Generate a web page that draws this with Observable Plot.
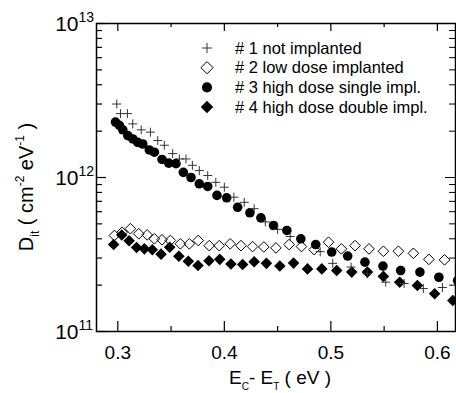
<!DOCTYPE html>
<html><head><meta charset="utf-8">
<script src="https://cdn.jsdelivr.net/npm/d3@7"></script>
<script src="https://cdn.jsdelivr.net/npm/@observablehq/plot@0.6"></script>
<style>
html,body{margin:0;padding:0;background:#fff;overflow:hidden;}
#chart{position:relative;width:456px;height:393px;}
</style></head><body><div id="chart"></div>
<script>
// ---- tick values / labels ----
const xTicks = [0.3, 0.4, 0.5, 0.6];
const xMinorTicks = [0.35, 0.45, 0.55];
const yDecades = [1e11, 1e12, 1e13];
const yMinorTicks = [2e11,3e11,4e11,5e11,6e11,7e11,8e11,9e11,2e12,3e12,4e12,5e12,6e12,7e12,8e12,9e12];
const seriesLabels = ["# 1 not implanted", "# 2 low dose implanted", "# 3 high dose single impl.", "# 4 high dose double impl."];

// ---- #1 not implanted (+) ----
const s1E = [0.299,0.3025,0.309,0.314,0.322,0.3306,0.3375,0.3437,0.3515,0.3578,0.364,0.370,0.3765,0.3844,0.392,0.400,0.409,0.4187,0.428,0.4385,0.450,0.4618,0.490,0.5017,0.519,0.534,0.5515,0.5687,0.5868,0.6047];
const s1D = [3.0e12,2.6e12,2.6e12,2.23e12,2.04e12,1.97e12,1.74e12,1.62e12,1.43e12,1.32e12,1.32e12,1.2e12,1.11e12,1.03e12,9.3e11,8.65e11,7.45e11,6.9e11,6.27e11,5.15e11,4.6e11,4.14e11,3.3e11,2.77e11,2.62e11,2.37e11,2.09e11,2.05e11,1.9e11,1.93e11];

// ---- #2 low dose implanted (open diamond) ----
const s2E = [0.2968,0.304,0.3118,0.3197,0.3275,0.3343,0.3415,0.3493,0.3587,0.3671,0.3755,0.3858,0.3952,0.4055,0.4156,0.4265,0.4371,0.4484,0.4608,0.4724,0.4843,0.4978,0.5099,0.5227,0.5358,0.5493,0.5634,0.5775,0.592,0.6067];
const s2D = [4.2e11,4.41e11,4.65e11,4.31e11,4.24e11,4.0e11,3.94e11,3.9e11,3.71e11,3.71e11,3.9e11,3.61e11,3.61e11,3.71e11,3.61e11,3.56e11,3.54e11,3.49e11,3.67e11,3.56e11,3.4e11,3.8e11,3.44e11,3.61e11,3.44e11,3.32e11,3.32e11,3.22e11,2.94e11,2.92e11];

// ---- #3 high dose single impl. (filled circle) ----
const s3E = [0.2978,0.3015,0.3047,0.3094,0.3141,0.3187,0.3234,0.3296,0.3343,0.3415,0.3478,0.3546,0.3615,0.3687,0.3765,0.3844,0.3931,0.4022,0.4125,0.424,0.4343,0.4462,0.4587,0.4718,0.4858,0.5008,0.5158,0.532,0.5489,0.5655,0.5836,0.6014,0.619];
const s3D = [2.29e12,2.18e12,2.04e12,1.87e12,1.78e12,1.69e12,1.65e12,1.51e12,1.46e12,1.31e12,1.24e12,1.23e12,1.08e12,1.0e12,9.1e11,8.75e11,7.65e11,7.38e11,6.41e11,5.9e11,5.47e11,4.88e11,4.53e11,4.0e11,3.67e11,3.28e11,3.09e11,2.82e11,2.66e11,2.49e11,2.43e11,2.25e11,2.14e11];

// ---- #4 high dose double impl. (filled diamond) ----
const s4E = [0.2961,0.3037,0.3106,0.3176,0.3249,0.3324,0.3406,0.3487,0.3573,0.3662,0.3753,0.3856,0.3957,0.4062,0.4172,0.428,0.4395,0.4521,0.465,0.4781,0.4915,0.5055,0.5196,0.5343,0.5493,0.5646,0.5812,0.5974,0.6145];
const s4D = [3.67e11,4.23e11,3.88e11,3.51e11,3.44e11,3.39e11,3.18e11,3.52e11,3.08e11,2.86e11,2.68e11,2.88e11,2.94e11,2.74e11,2.72e11,2.84e11,2.77e11,2.66e11,2.78e11,2.55e11,2.55e11,2.49e11,2.43e11,2.43e11,2.28e11,2.09e11,1.99e11,1.76e11,1.59e11];

const toRows = (E, D) => E.map((e, i) => ({e, d: D[i]}));
const s1 = toRows(s1E, s1D), s2 = toRows(s2E, s2D), s3 = toRows(s3E, s3D), s4 = toRows(s4E, s4D);

const W = 456, H = 393, mL = 96, mR = 1, mT = 23, mB = 62;
const pw = W - mL - mR, ph = H - mT - mB;
const FONT = "'Liberation Sans', Arial, Helvetica, sans-serif";

const svg = Plot.plot({
  width: W, height: H,
  marginLeft: mL, marginRight: mR, marginTop: mT, marginBottom: mB,
  x: {domain: [0.28, 0.617], axis: null},
  y: {type: "log", domain: [1e11, 1e13], axis: null},
  style: {fontFamily: FONT, color: "#000", background: "#fff", overflow: "visible"},
  marks: [
    Plot.frame({stroke: "#000", strokeWidth: 1.5}),
    // inward ticks
    Plot.tickX(xTicks, {x: d => d, insetTop: ph - 10, stroke: "#000", strokeWidth: 1.2}),
    Plot.tickX(xTicks, {x: d => d, insetBottom: ph - 8, stroke: "#000", strokeWidth: 1.2}),
    Plot.tickX(xMinorTicks, {x: d => d, insetTop: ph - 5, stroke: "#000", strokeWidth: 1.2}),
    Plot.tickX(xMinorTicks, {x: d => d, insetBottom: ph - 4, stroke: "#000", strokeWidth: 1.2}),
    Plot.tickY(yDecades, {y: d => d, insetRight: pw - 10, stroke: "#000", strokeWidth: 1.2}),
    Plot.tickY(yMinorTicks, {y: d => d, insetRight: pw - 6, stroke: "#000", strokeWidth: 1.2}),
    Plot.tickY(yDecades, {y: d => d, insetLeft: pw - 10, stroke: "#000", strokeWidth: 1}),
    Plot.tickY(yMinorTicks, {y: d => d, insetLeft: pw - 6, stroke: "#000", strokeWidth: 1}),
    // tick labels
    Plot.text(xTicks, {x: d => d, frameAnchor: "bottom", dy: 21, text: d => d.toFixed(1), fontSize: 19, lineAnchor: "middle", fill: "#000"}),
    Plot.text(yDecades, {y: d => d, frameAnchor: "left", dx: -18, dy: 1, textAnchor: "end", lineAnchor: "middle", text: () => "10", fontSize: 21, fill: "#000"}),
    Plot.text(yDecades, {y: d => d, frameAnchor: "left", dx: -18, dy: -6, textAnchor: "start", lineAnchor: "middle", text: d => String(Math.round(Math.log10(d))), fontSize: 14, fill: "#000"}),
    // data
    Plot.dot(s2, {x: "e", y: "d", symbol: "diamond2", r: 4.8, stroke: "#000", strokeWidth: 1, fill: "none"}),
    Plot.dot(s4, {x: "e", y: "d", symbol: "diamond2", r: 5.2, fill: "#000", stroke: "none"}),
    Plot.dot(s3, {x: "e", y: "d", symbol: "circle", r: 4.8, fill: "#000", stroke: "none"}),
    Plot.dot(s1, {x: "e", y: "d", symbol: "plus", r: 3, stroke: "#333", strokeWidth: 1, fill: "none"})
  ]
});
document.getElementById("chart").appendChild(svg);

// ---- axis titles and legend ----
const g = d3.select(svg);
const xt = g.append("text").attr("x", 280).attr("y", 384).attr("text-anchor", "middle")
  .attr("font-family", FONT).attr("font-size", 19).attr("fill", "#000");
xt.append("tspan").text("E");
xt.append("tspan").attr("font-size", 10).attr("dy", 6).text("C");
xt.append("tspan").attr("dy", -6).text("- E");
xt.append("tspan").attr("font-size", 10).attr("dy", 6).text("T");
xt.append("tspan").attr("dy", -6).text(" ( eV )");

const yt = g.append("text").attr("transform", "translate(33,187) rotate(-90)").attr("text-anchor", "middle")
  .attr("font-family", FONT).attr("font-size", 20).attr("fill", "#000");
yt.append("tspan").text("D");
yt.append("tspan").attr("font-size", 12).attr("dy", 6).text("it");
yt.append("tspan").attr("dy", -6).text(" ( cm");
yt.append("tspan").attr("font-size", 12).attr("dy", -9).text("-2");
yt.append("tspan").attr("dy", 9).text(" eV");
yt.append("tspan").attr("font-size", 12).attr("dy", -9).text("-1");
yt.append("tspan").attr("dy", 9).text(" )");

const legSym = [
  {type: d3.symbolPlus, size: 36, fill: "none", stroke: "#333"},
  {type: d3.symbolDiamond2, size: 95, fill: "none", stroke: "#000"},
  {type: d3.symbolCircle, size: 80, fill: "#000", stroke: "none"},
  {type: d3.symbolDiamond2, size: 100, fill: "#000", stroke: "none"}
];
const leg = g.append("g");
seriesLabels.forEach((lab, i) => {
  const y = 48 + i * 19.7;
  const s = legSym[i];
  leg.append("path").attr("d", d3.symbol(s.type, s.size)()).attr("transform", `translate(207,${y})`)
    .attr("fill", s.fill).attr("stroke", s.stroke).attr("stroke-width", 1);
  leg.append("text").attr("x", 235).attr("y", y).attr("dy", "0.35em").attr("text-anchor", "start")
    .attr("font-family", FONT).attr("font-size", 16.5).attr("fill", "#000").text(lab);
});
</script></body></html>
